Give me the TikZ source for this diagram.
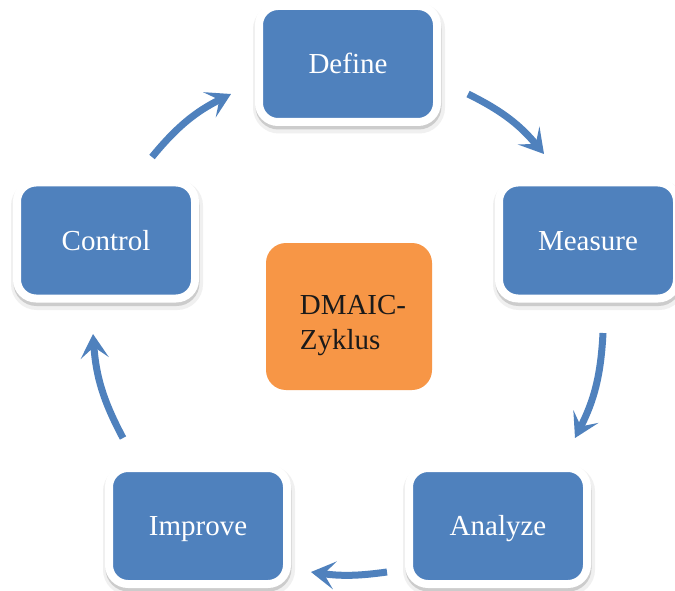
\documentclass[tikz,border=0pt]{standalone}
\usepackage{fontspec}
\setmainfont{Liberation Serif}
\usetikzlibrary{arrows.meta}
\definecolor{boxblue}{HTML}{4F81BD}
\definecolor{boxorange}{HTML}{F79646}
\definecolor{centertext}{HTML}{1A1A1A}
\begin{document}
\begin{tikzpicture}[x=1pt,y=1pt,
  phase/.style={fill=boxblue, draw=white, line width=8pt, rounded corners=19pt,
    minimum width=178pt, minimum height=116pt, inner sep=0pt, text=white,
    font=\fontsize{29}{35}\selectfont, text height=19pt, text depth=0pt,
    preaction={draw=black!6, fill=black!6, line width=14pt,
      transform canvas={xshift=1pt,yshift=-4.5pt}},
    preaction={draw=black!20, fill=black!20, line width=8pt,
      transform canvas={xshift=0.5pt,yshift=-3.5pt}}},
  cyc/.style={draw=boxblue, line width=7pt,
    -{Stealth[length=24pt,width=28pt,inset=11pt]}},
  hub/.style={fill=boxorange, rounded corners=20pt, minimum width=166pt,
    minimum height=147pt, inner sep=0pt}
]
\path[use as bounding box, fill=white] (0,0) rectangle (675,-591);

\node[phase] (define)  at (348,-64)    {Define};
\node[phase] (measure) at (588,-240.5) {Measure};
\node[phase] (control) at (106,-240.5) {Control};
\node[phase] (improve) at (198,-526)   {Improve};
\node[phase] (analyze) at (498,-526)   {Analyze};

\node[hub, label={[name=hubtext, align=left, text=centertext,
    font=\fontsize{29}{35}\selectfont, xshift=4pt, yshift=-9pt]center:DMAIC-\\Zyklus}]
  (hub) at (349,-316.5) {};

\coordinate (c1s) at (152,-157);
\coordinate (c1e) at (231,-94);
\coordinate (d1s) at (468,-94);
\coordinate (d1e) at (544,-154);
\coordinate (m1s) at (603,-333);
\coordinate (m1e) at (575,-438);
\coordinate (a1s) at (387,-572);
\coordinate (a1e) at (311,-572);
\coordinate (i1s) at (123,-438);
\coordinate (i1e) at (93,-334);

\draw[cyc] (c1s) to[bend left=12] (c1e);
\draw[cyc] (d1s) to[bend left=12] (d1e);
\draw[cyc] (m1s) to[bend left=12] (m1e);
\draw[cyc] (a1s) to[bend left=8]  (a1e);
\draw[cyc] (i1s) to[bend left=12] (i1e);
\end{tikzpicture}
\end{document}
